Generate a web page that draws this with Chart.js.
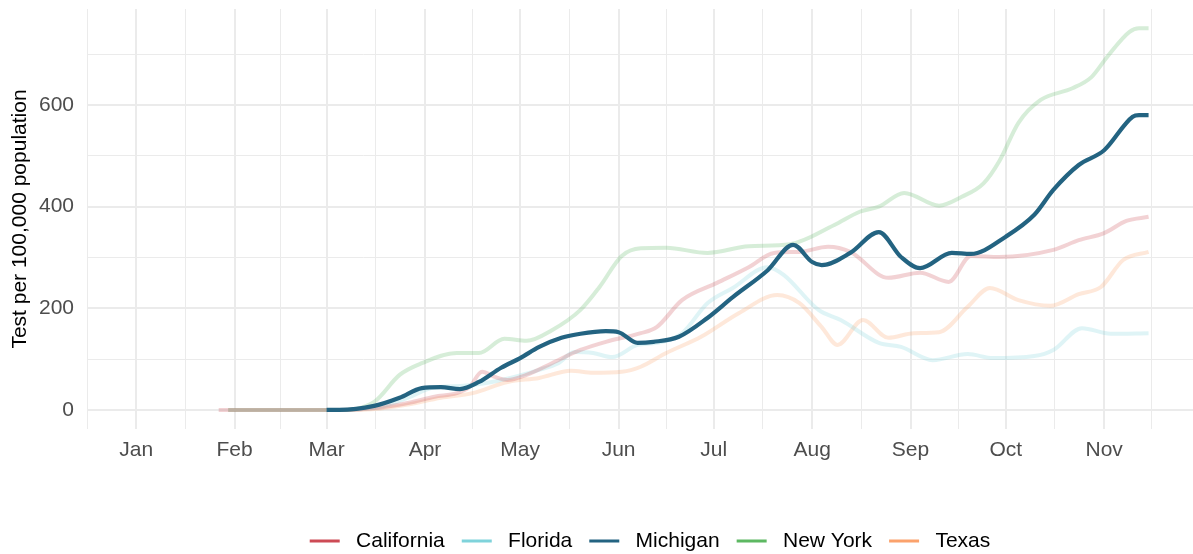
<!DOCTYPE html>
<html><head><meta charset="utf-8">
<script src="https://cdn.jsdelivr.net/npm/chart.js@4.4.1/dist/chart.umd.min.js"></script>
<style>html,body{margin:0;padding:0;background:#fff;}#wrap{width:1193px;height:554px;}</style>
</head><body><div id="wrap"><canvas id="c" width="1193" height="554"></canvas></div>
<script>
// x values: days since 2020-01-01
const monthLabels = ['Jan','Feb','Mar','Apr','May','Jun','Jul','Aug','Sep','Oct','Nov'];
const monthStarts = [0, 31, 60, 91, 121, 152, 182, 213, 244, 274, 305];
const yTickLabels = [0, 200, 400, 600];
const yMinorTicks = [100, 300, 500, 700];

const stateNames = ['California', 'Florida', 'Michigan', 'New York', 'Texas'];
const stateColors = ['#CD4B55', '#7FD3DB', '#236381', '#5DB862', '#FBA26C'];

const caDays = [26, 64, 77, 86, 94, 101, 105, 109, 113, 117, 123, 131, 140, 148, 159, 164, 172, 183, 193, 201, 209, 218, 225, 237, 247, 256, 263, 272, 289, 297, 305, 312, 319];
const caVals = [0, 0, 5, 14, 26, 33, 45, 75, 65, 59, 69, 92, 118, 134, 151, 163, 216, 250, 281, 309, 311, 321, 311, 260, 270, 252, 303, 301, 315, 334, 348, 372, 380];

const flDays = [29, 64, 77, 86, 93, 104, 115, 127, 133, 138, 144, 150, 158, 164, 172, 180, 188, 199, 204, 215, 222, 234, 241, 251, 262, 270, 283, 289, 298, 307, 319];
const flVals = [0, 0, 6, 25, 43, 48, 59, 79, 92, 114, 112, 104, 128, 132, 151, 210, 240, 281, 266, 197, 177, 132, 124, 98, 110, 102, 106, 118, 161, 150, 151];

const miDays = [60, 64, 75, 83, 90, 96, 102, 108, 115, 121, 127, 134, 140, 148, 152, 158, 163, 171, 180, 188, 199, 207, 213, 216, 225, 234, 241, 247, 257, 263, 274, 283, 289, 297, 305, 314, 316, 319];
const miVals = [0, 0, 8, 24, 43, 45, 41, 55, 83, 102, 124, 142, 150, 155, 153, 132, 134, 144, 181, 222, 275, 325, 291, 285, 309, 350, 301, 279, 309, 307, 341, 384, 433, 482, 511, 577, 580, 580];

const nyDays = [29, 64, 75, 83, 90, 101, 108, 116, 123, 131, 140, 146, 153, 159, 167, 180, 193, 206, 220, 228, 234, 242, 253, 260, 267, 272, 278, 285, 295, 301, 306, 313, 316, 319];
const nyVals = [0, 0, 16, 69, 92, 112, 112, 140, 136, 157, 197, 242, 303, 318, 319, 309, 322, 326, 364, 390, 400, 427, 402, 419, 446, 490, 565, 610, 633, 655, 695, 744, 751, 751];

const txDays = [29, 64, 77, 85, 96, 106, 117, 127, 137, 144, 153, 159, 167, 178, 190, 202, 209, 216, 221, 229, 237, 245, 253, 262, 269, 278, 288, 297, 304, 311, 319];
const txVals = [0, 0, 3, 10, 24, 33, 55, 63, 77, 73, 75, 85, 112, 144, 191, 226, 210, 163, 128, 177, 142, 151, 153, 203, 240, 216, 205, 228, 242, 295, 311];

const seriesDays = [caDays, flDays, miDays, nyDays, txDays];
const seriesVals = [caVals, flVals, miVals, nyVals, txVals];
const highlight = 'Michigan';

function rgba(hex, a) {
  const n = parseInt(hex.slice(1), 16);
  return 'rgba(' + (n >> 16) + ',' + ((n >> 8) & 255) + ',' + (n & 255) + ',' + a + ')';
}

// minor x grid lines halfway between month starts (incl. mid-Dec and mid-Nov)
const bounds = [-31].concat(monthStarts, [335]);
const xMinor = [];
for (let i = 0; i < bounds.length - 1; i++) xMinor.push((bounds[i] + bounds[i + 1]) / 2);
const xTicks = monthStarts.concat(xMinor).sort((a, b) => a - b);

const datasets = stateNames.map((name, i) => ({
  label: name,
  data: seriesDays[i].map((d, j) => ({ x: d, y: seriesVals[i][j] })),
  borderColor: name === highlight ? stateColors[i] : rgba(stateColors[i], 0.25),
  legendColor: stateColors[i],
  borderWidth: name === highlight ? 4.2 : 4,
  borderCapStyle: 'butt',
  pointRadius: 0,
  pointHoverRadius: 0,
  cubicInterpolationMode: 'monotone',
  fill: false,
  order: name === highlight ? 0 : 1
}));

Chart.defaults.font.family = '"Liberation Sans", Arial, Helvetica, sans-serif';

const legendShift = {
  id: 'legendShift',
  beforeDraw(chart) {
    const lg = chart.legend;
    if (!lg) return;
    const dy = 513.5 - lg.top;
    lg.top += dy; lg.bottom += dy;
    lg.left = 107; lg.right = 1193;
  }
};

new Chart(document.getElementById('c'), {
  type: 'line',
  data: { datasets },
  plugins: [legendShift],
  options: {
    responsive: false,
    animation: false,
    devicePixelRatio: 1,
    layout: { padding: { top: 9, left: 0, right: 0, bottom: 0 } },
    plugins: {
      tooltip: { enabled: false },
      legend: {
        position: 'bottom',
        labels: {
          boxWidth: 30,
          boxHeight: 3,
          padding: 17,
          color: '#000000',
          font: { size: 21 },
          generateLabels: (chart) => chart.data.datasets.map((ds, i) => ({
            text: ' ' + ds.label,
            fillStyle: ds.legendColor,
            strokeStyle: ds.legendColor,
            lineWidth: 0,
            hidden: false,
            datasetIndex: i,
            fontColor: '#000000'
          }))
        }
      }
    },
    scales: {
      x: {
        type: 'linear',
        min: -15.5,
        max: 333,
        afterBuildTicks: (s) => { s.ticks = xTicks.map(v => ({ value: v })); },
        afterFit: (s) => { s.height = 77; s.paddingLeft = 0; s.paddingRight = 0; },
        ticks: {
          autoSkip: false, maxRotation: 0, minRotation: 0, padding: 9,
          color: '#4D4D4D', font: { size: 21 },
          callback: (v) => { const k = monthStarts.indexOf(v); return k >= 0 ? monthLabels[k] : ''; }
        },
        grid: {
          color: '#EBEBEB',
          lineWidth: (c) => (c.tick && monthStarts.includes(c.tick.value)) ? 2 : 1,
          drawTicks: false
        },
        border: { display: false }
      },
      y: {
        type: 'linear',
        min: -37.5,
        max: 789,
        afterBuildTicks: (s) => { s.ticks = yTickLabels.concat(yMinorTicks).sort((a, b) => a - b).map(v => ({ value: v })); },
        afterFit: (s) => { s.width = 87; s.paddingTop = 0; s.paddingBottom = 0; },
        ticks: {
          padding: 13, color: '#4D4D4D', font: { size: 21 },
          callback: (v) => yTickLabels.includes(v) ? String(v) : ''
        },
        grid: {
          color: '#EBEBEB',
          lineWidth: (c) => (c.tick && yTickLabels.includes(c.tick.value)) ? 2 : 1,
          drawTicks: false
        },
        border: { display: false },
        title: {
          display: true, text: 'Test per 100,000 population', color: '#000000',
          font: { size: 21 }, padding: { top: 8, bottom: 0 }
        }
      }
    }
  }
});
</script>
</body></html>
